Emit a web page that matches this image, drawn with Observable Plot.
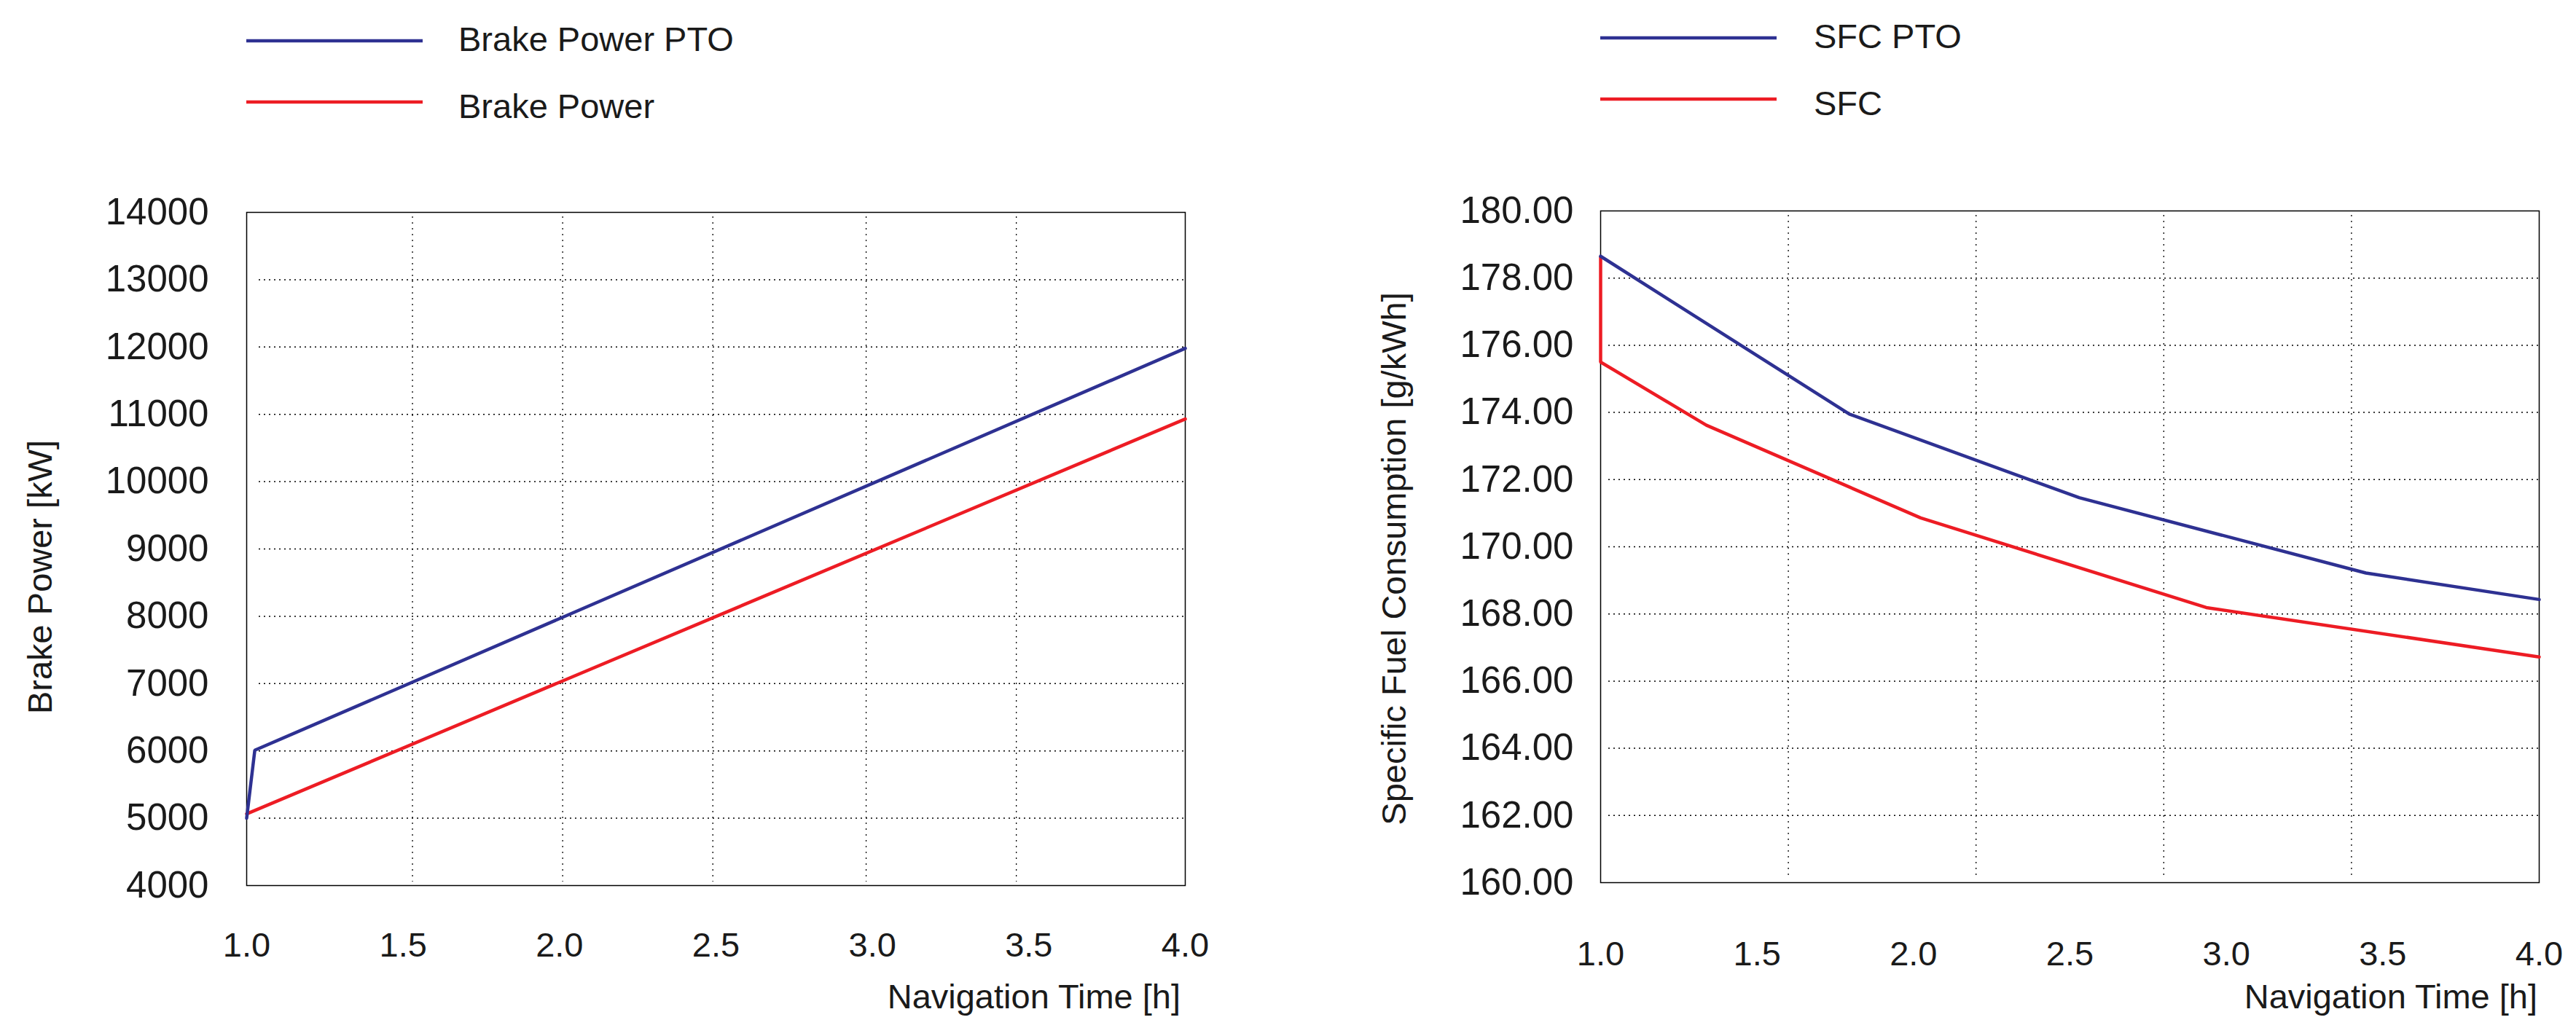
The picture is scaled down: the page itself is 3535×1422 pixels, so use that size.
<!DOCTYPE html>
<html>
<head>
<meta charset="utf-8">
<script src="https://cdn.jsdelivr.net/npm/d3@7"></script>
<script src="https://cdn.jsdelivr.net/npm/@observablehq/plot@0.6"></script>
<style>
  html, body { margin: 0; padding: 0; background: #ffffff; }
  #page { position: relative; width: 3535px; height: 1422px; background: #ffffff; overflow: hidden;
          font-family: "Liberation Sans", Arial, sans-serif; color: #1a1a1a; }
  .chart { position: absolute; top: 200px; }
  #overlay { position: absolute; left: 0; top: 0; pointer-events: none; }
</style>
</head>
<body>
<div id="page">
  <div id="left" class="chart" style="left:0px"></div>
  <div id="right" class="chart" style="left:1780px"></div>
</div>
<script>
// ---------- data ----------
const xTicks = [1.0, 1.5, 2.0, 2.5, 3.0, 3.5, 4.0];
const powerTicks = [4000, 5000, 6000, 7000, 8000, 9000, 10000, 11000, 12000, 13000, 14000];
const powerGrid = [5000, 6000, 7000, 8000, 9000, 10000, 11000, 12000, 13000];
const powerGridX = [1.53, 2.01, 2.49, 2.98, 3.46];
const sfcTicks = [160, 162, 164, 166, 168, 170, 172, 174, 176, 178, 180];
const sfcGrid = [162, 164, 166, 168, 170, 172, 174, 176, 178];
const sfcGridX = [1.6, 2.2, 2.8, 3.4];

// Brake Power PTO
const timePowerPTO = [1.0, 1.026, 4.0];
const brakePowerPTO = [5000, 6010, 11980];
// Brake Power
const timePower = [1.0, 4.0];
const brakePower = [5065, 10930];
// SFC PTO
const timeSfcPTO = [1.0, 1.795, 2.53, 3.446, 4.0];
const sfcPTO = [178.65, 173.95, 171.46, 169.22, 168.43];
// SFC
const timeSfc = [1.0, 1.0, 1.338, 2.023, 2.936, 4.0];
const sfc = [178.63, 175.5, 173.62, 170.86, 168.19, 166.72];

const legendLeft = ["Brake Power PTO", "Brake Power"];
const legendRight = ["SFC PTO", "SFC"];
const colors = ["#2E3192", "#ED1C24"];

// ---------- helpers ----------
const rows = (xs, ys) => xs.map((x, i) => ({x, y: ys[i]}));
const FONT = "'Liberation Sans', Arial, sans-serif";

function makeChart({width, marginLeft, marginRight, marginTop, marginBottom, yDomain, yTicks, yGrid, xGrid,
                    yFormat, yPad, xPad, gridInset, series}) {
  return Plot.plot({
    width, height: 1222,
    marginLeft, marginRight, marginTop, marginBottom,
    style: {fontFamily: FONT, background: "transparent", color: "#1a1a1a", overflow: "visible"},
    x: {domain: [1, 4]},
    y: {domain: yDomain},
    marks: [
      Plot.gridY(yGrid, {stroke: "#000", strokeOpacity: 1, strokeWidth: 1.5, strokeDasharray: "2,5", insetLeft: gridInset}),
      Plot.gridX(xGrid, {stroke: "#000", strokeOpacity: 1, strokeWidth: 1.3, strokeDasharray: "2,6", insetTop: 6, insetBottom: 5}),
      Plot.frame({stroke: "#000", strokeWidth: 1.5}),
      Plot.axisY(yTicks, {tickSize: 0, tickPadding: yPad, fontSize: 51, label: null, tickFormat: yFormat}),
      Plot.axisX(xTicks, {tickSize: 0, tickPadding: xPad, fontSize: 47, label: null, tickFormat: d => d.toFixed(1)}),
      Plot.line(series[1], {x: "x", y: "y", stroke: colors[1], strokeWidth: 4.5, strokeLinejoin: "miter"}),
      Plot.line(series[0], {x: "x", y: "y", stroke: colors[0], strokeWidth: 4.5, strokeLinejoin: "miter"})
    ]
  });
}

const leftChart = makeChart({
  width: 1780, marginLeft: 338, marginRight: 154, marginTop: 91, marginBottom: 207,
  yDomain: [4000, 14000], yTicks: powerTicks, yGrid: powerGrid, xGrid: powerGridX,
  yFormat: d => String(d), yPad: 52, xPad: 64, gridInset: 17,
  series: [rows(timePowerPTO, brakePowerPTO), rows(timePower, brakePower)]
});
document.getElementById("left").appendChild(leftChart);

const rightChart = makeChart({
  width: 1755, marginLeft: 416, marginRight: 51, marginTop: 89, marginBottom: 211,
  yDomain: [160, 180], yTicks: sfcTicks, yGrid: sfcGrid, xGrid: sfcGridX,
  yFormat: d => d.toFixed(2), yPad: 37, xPad: 80, gridInset: 11,
  series: [rows(timeSfcPTO, sfcPTO), rows(timeSfc, sfc)]
});
document.getElementById("right").appendChild(rightChart);

// ---------- legends and axis titles ----------
const svg = d3.select("#page").append("svg")
  .attr("id", "overlay").attr("width", 3535).attr("height", 1422)
  .style("font-family", FONT).style("fill", "#1a1a1a");

function legend(x0, x1, xt, entries, lineYs, baseYs) {
  entries.forEach((name, i) => {
    svg.append("line").attr("x1", x0).attr("x2", x1).attr("y1", lineYs[i]).attr("y2", lineYs[i])
      .attr("stroke", colors[i]).attr("stroke-width", 4.5);
    svg.append("text").attr("x", xt).attr("y", baseYs[i]).attr("font-size", 47).text(name);
  });
}
legend(338, 580, 629, legendLeft, [56, 140], [70, 162]);
legend(2196, 2438, 2489, legendRight, [52, 136], [66, 158]);

svg.append("text").attr("transform", "translate(71,792) rotate(-90)")
  .attr("text-anchor", "middle").attr("font-size", 47).text("Brake Power [kW]");
svg.append("text").attr("transform", "translate(1929,767) rotate(-90)")
  .attr("text-anchor", "middle").attr("font-size", 47).text("Specific Fuel Consumption [g/kWh]");
svg.append("text").attr("x", 1620).attr("y", 1384)
  .attr("text-anchor", "end").attr("font-size", 47).text("Navigation Time [h]");
svg.append("text").attr("x", 3482).attr("y", 1384)
  .attr("text-anchor", "end").attr("font-size", 47).text("Navigation Time [h]");
</script>
</body>
</html>
